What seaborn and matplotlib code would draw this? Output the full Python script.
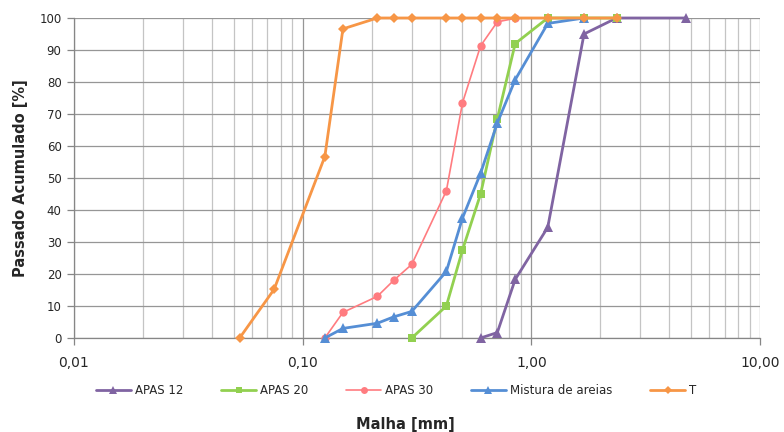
import matplotlib
matplotlib.use("Agg")
import matplotlib.pyplot as plt
import matplotlib.ticker as mticker
from matplotlib.lines import Line2D
import seaborn as sns
import pandas as pd

# === Data ===
apas12_x = [0.6, 0.71, 0.85, 1.18, 1.7, 2.36, 4.75]
apas12_y = [0, 1.7, 18.3, 34.6, 95, 100, 100]

apas20_x = [0.3, 0.425, 0.5, 0.6, 0.71, 0.85, 1.18, 1.7, 2.36]
apas20_y = [0, 10, 27.5, 45, 68.5, 92, 100, 100, 100]

apas30_x = [0.125, 0.15, 0.212, 0.25, 0.3, 0.425, 0.5, 0.6, 0.71, 0.85]
apas30_y = [0, 8, 13, 18, 23, 46, 73.5, 91.3, 98.8, 99.9]

mistura_x = [0.125, 0.15, 0.212, 0.25, 0.3, 0.425, 0.5, 0.6, 0.71, 0.85, 1.18, 1.7]
mistura_y = [0, 3, 4.6, 6.6, 8.3, 20.8, 37.5, 51.5, 67.2, 80.7, 98.3, 100]

t_x = [0.053, 0.075, 0.125, 0.15, 0.212, 0.25, 0.3, 0.425, 0.5, 0.6, 0.71, 0.85, 1.18, 1.7, 2.36]
t_y = [0, 15.2, 56.7, 96.6, 100, 100, 100, 100, 100, 100, 100, 100, 100, 100, 100]

series_names = ["APAS 12", "APAS 20", "APAS 30", "Mistura de areias", "T"]
x_tick_labels = ["0,01", "0,10", "1,00", "10,00"]

# === Styles ===
styles = {
    "APAS 12": dict(color="#8064A2", marker="^", lw=2.0, ms=6.5),
    "APAS 20": dict(color="#92D050", marker="s", lw=2.0, ms=6),
    "APAS 30": dict(color="#FF7C80", marker="o", lw=1.2, ms=6),
    "Mistura de areias": dict(color="#558ED5", marker="^", lw=2.0, ms=6.5),
    "T": dict(color="#F79646", marker="D", lw=2.0, ms=5),
}
data = {
    "APAS 12": (apas12_x, apas12_y),
    "APAS 20": (apas20_x, apas20_y),
    "APAS 30": (apas30_x, apas30_y),
    "Mistura de areias": (mistura_x, mistura_y),
    "T": (t_x, t_y),
}

sns.set_theme(style="white")
plt.rcParams["font.family"] = ["DejaVu Sans"]

fig = plt.figure(figsize=(7.84, 4.32), dpi=100)
ax = fig.add_axes([74 / 784, 1 - 338 / 432, (760 - 74) / 784, (338 - 18) / 432])

for name in series_names:
    xs, ys = data[name]
    st = styles[name]
    df = pd.DataFrame({"x": xs, "y": ys})
    sns.lineplot(data=df, x="x", y="y", ax=ax, color=st["color"], marker=st["marker"],
                 linewidth=st["lw"], markersize=st["ms"], markeredgewidth=0,
                 sort=False, estimator=None, clip_on=False, zorder=3)

ax.set_xscale("log")
ax.set_xlim(0.01, 10)
ax.set_ylim(0, 100)
ax.set_yticks(range(0, 101, 10))
ax.xaxis.set_major_locator(mticker.FixedLocator([0.01, 0.1, 1, 10]))
ax.xaxis.set_major_formatter(mticker.FixedFormatter(x_tick_labels))
ax.xaxis.set_minor_locator(mticker.LogLocator(base=10, subs=range(2, 10)))
ax.xaxis.set_minor_formatter(mticker.NullFormatter())

ax.grid(True, which="major", axis="both", color="#969696", linewidth=0.9)
ax.grid(True, which="minor", axis="x", color="#C4C4C4", linewidth=0.9)
ax.set_axisbelow(True)

for s in ["top", "right"]:
    ax.spines[s].set_visible(False)
for s in ["left", "bottom"]:
    ax.spines[s].set_color("#868686")
    ax.spines[s].set_linewidth(0.9)

ax.tick_params(axis="x", which="major", direction="out", length=5, width=0.9,
               color="#868686", labelsize=10, pad=8, bottom=True)
ax.tick_params(axis="x", which="minor", length=0)
ax.tick_params(axis="y", direction="out", length=5, width=0.9, color="#868686",
               labelsize=8.5, pad=4, left=True)

ax.set_xlabel("")
ax.set_ylabel("Passado Acumulado [%]", fontsize=10.5, fontweight="bold", labelpad=8)
fig.text(405 / 784, 1 - 424 / 432, "Malha [mm]", fontsize=10.5, fontweight="bold",
         ha="center", va="center")

handles = [Line2D([0], [0], color=styles[n]["color"], marker=styles[n]["marker"],
                  lw=styles[n]["lw"], ms=styles[n]["ms"] - 1, markeredgewidth=0)
           for n in series_names]
fig.legend(handles, series_names, loc="center", bbox_to_anchor=(0.505, 1 - 391 / 432),
           ncol=5, frameon=False, fontsize=8.5, handlelength=3.0, handletextpad=0.3,
           columnspacing=3.2)

fig.savefig("out.png", dpi=100)
plt.close(fig)
